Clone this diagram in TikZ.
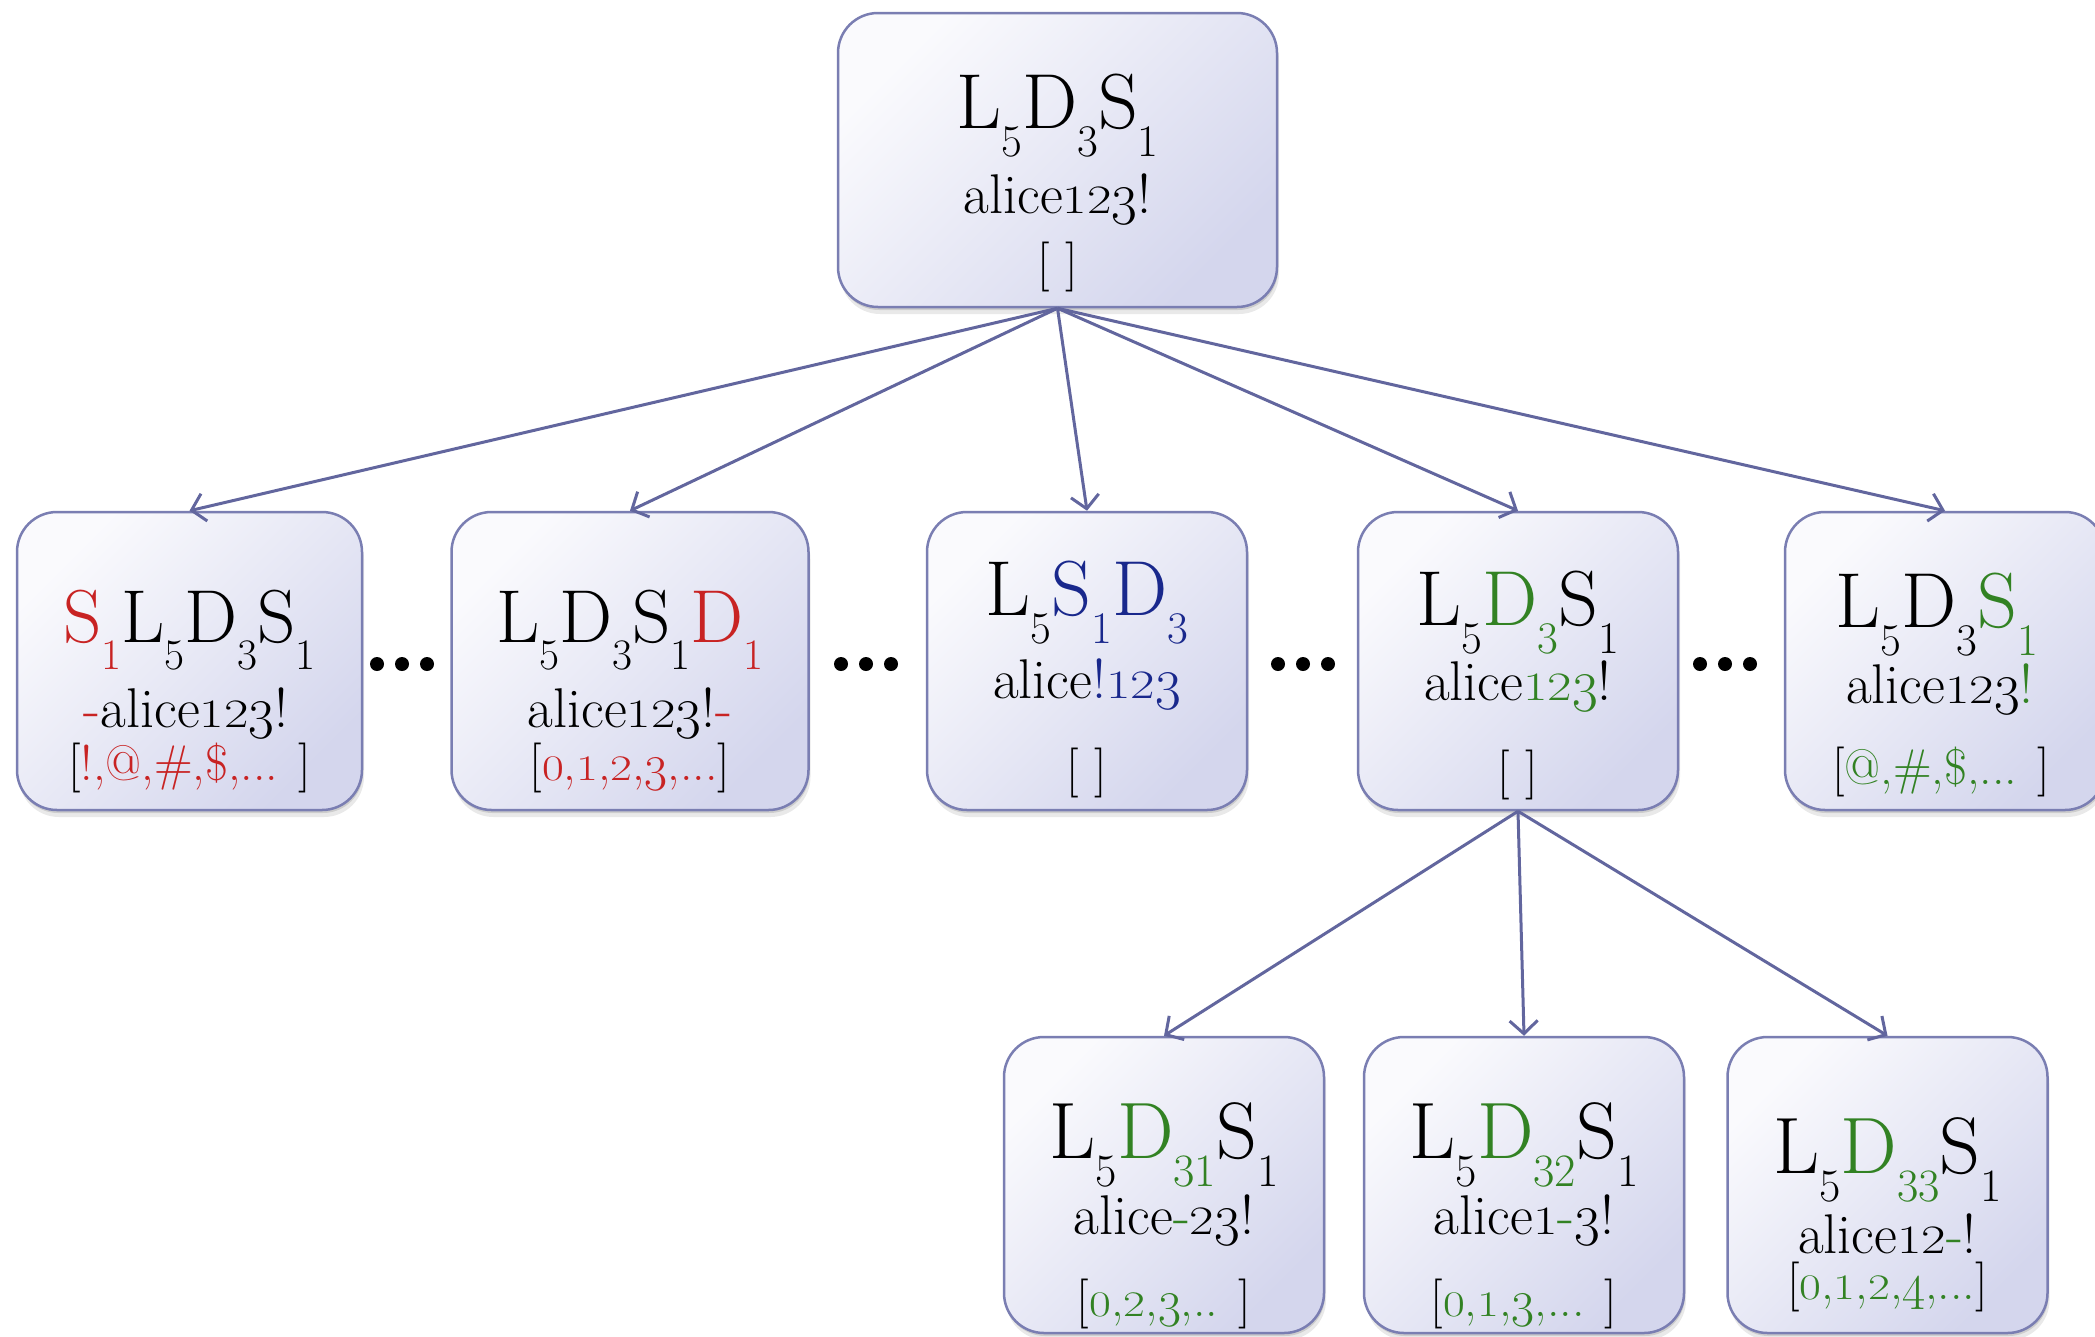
\documentclass[tikz,border=0pt]{standalone}
\usepackage{graphicx}
\usetikzlibrary{arrows.meta,shadows}
\definecolor{cred}{RGB}{200,35,35}
\definecolor{cblue}{RGB}{25,40,140}
\definecolor{cgreen}{RGB}{50,130,35}
\definecolor{edgec}{RGB}{98,102,158}
\definecolor{boxborder}{RGB}{122,126,178}
\definecolor{boxtop}{RGB}{250,250,253}
\definecolor{boxbot}{RGB}{212,214,237}
% old-style look: small figures (0,1,2) and descending figures (3,4)
\newcommand\oS[1]{\scalebox{0.95}[0.72]{#1}}
\newcommand\oD[1]{\raisebox{-0.2em}{#1}}
\newcommand\sub[1]{\raisebox{-0.36em}{\scalebox{0.58}{#1}}}
\newcommand\cR[1]{\textcolor{cred}{#1}}
\newcommand\cB[1]{\textcolor{cblue}{#1}}
\newcommand\cG[1]{\textcolor{cgreen}{#1}}
\begin{document}
\begin{tikzpicture}[x=1pt,y=-1pt,
  box/.style={rectangle, rounded corners=40pt, draw=boxborder, line width=2.5pt,
    top color=boxtop, bottom color=boxbot, shading angle=45,
    inner sep=0pt,
    drop shadow={shadow xshift=1pt,shadow yshift=-3pt,opacity=0.18,fill=black!70},
    drop shadow={shadow xshift=2pt,shadow yshift=-7pt,opacity=0.12,fill=black!70}},
  rowbox/.style={box, minimum width=320pt, minimum height=298pt},
  tA/.style={anchor=base, inner sep=0pt, font=\fontsize{78}{84}\selectfont},
  tAs/.style={anchor=base, inner sep=0pt, font=\fontsize{75}{80}\selectfont},
  tAb/.style={anchor=base, inner sep=0pt, font=\fontsize{80}{86}\selectfont},
  tB/.style={anchor=base, inner sep=0pt, font=\fontsize{56}{60}\selectfont},
  tC/.style={anchor=base, inner sep=0pt, font=\fontsize{50}{54}\selectfont},
  arr/.style={draw=edgec, line width=3pt, -{Straight Barb[length=13pt,width=28pt]}},
  dot/.style={fill=black}
]
\useasboundingbox (0,0) rectangle (2095,1336);

% boxes
\node[box, minimum width=439pt, minimum height=294pt] (root) at (1057.5,160) {};
\node[box, minimum width=345pt, minimum height=298pt] (b1) at (189.5,661) {};
\node[box, minimum width=357pt, minimum height=298pt] (b2) at (630,661) {};
\node[rowbox] (b3) at (1087,661) {};
\node[rowbox] (b4) at (1518,661) {};
\node[rowbox] (b5) at (1945,661) {};
\node[rowbox, minimum height=296pt] (b6) at (1164,1185) {};
\node[rowbox, minimum height=296pt] (b7) at (1524,1185) {};
\node[rowbox, minimum height=296pt] (b8) at (1887.5,1185) {};

% root text
\node[tA] (r1) at (1057.5,128) {L\sub{5}D\sub{3}S\sub{1}};
\node[tB] (r2) at (1057.5,213) {alice\oS{12}\oD{3}!};
\node[tC] (r3) at (1057.5,279) {[ ]};

% b1
\node[tAs] (b1a) at (189.5,642) {\cR{S\sub{1}}L\sub{5}D\sub{3}S\sub{1}};
\node[tB] (b1b) at (186,727) {\cR{-}alice\oS{12}\oD{3}!};
\node[tC] (b1c) at (189.5,780) {[\cR{!,@,\#,\$,...} ]};

% b2
\node[tAs] (b2a) at (630,642) {L\sub{5}D\sub{3}S\sub{1}\cR{D\sub{1}}};
\node[tB] (b2b) at (630,727) {alice\oS{12}\oD{3}!\cR{-}};
\node[tC] (b2c) at (630,780) {[\cR{\oS{0},\oS{1},\oS{2},\oD{3},...}]};

% b3
\node[tA] (b3a) at (1087,615) {L\sub{5}\cB{S\sub{1}D\sub{3}}};
\node[tB] (b3b) at (1087,698) {alice\cB{!\oS{12}\oD{3}}};
\node[tC] (b3c) at (1087,785) {[ ]};

% b4
\node[tA] (b4a) at (1518,625) {L\sub{5}\cG{D\sub{3}}S\sub{1}};
\node[tB] (b4b) at (1518,700) {alice\cG{\oS{12}\oD{3}}!};
\node[tC] (b4c) at (1518,787) {[ ]};

% b5
\node[tA] (b5a) at (1937,627) {L\sub{5}D\sub{3}\cG{S\sub{1}}};
\node[tB] (b5b) at (1940,703) {alice\oS{12}\oD{3}\cG{!}};
\node[tC] (b5c) at (1941,784) {[\cG{@,\#,\$,...} ]};

% b6
\node[tAb] (b6a) at (1164,1158) {L\sub{5}\cG{D\sub{31}}S\sub{1}};
\node[tB] (b6b) at (1164,1234) {alice\cG{-}\oS{2}\oD{3}!};
\node[tC] (b6c) at (1164,1316) {[\cG{\oS{0},\oS{2},\oD{3},..} ]};

% b7
\node[tAb] (b7a) at (1524,1158) {L\sub{5}\cG{D\sub{32}}S\sub{1}};
\node[tB] (b7b) at (1524,1234) {alice\oS{1}\cG{-}\oD{3}!};
\node[tC] (b7c) at (1524,1316) {[\cG{\oS{0},\oS{1},\oD{3},...} ]};

% b8
\node[tAb] (b8a) at (1887.5,1173) {L\sub{5}\cG{D\sub{33}}S\sub{1}};
\node[tB] (b8b) at (1887.5,1253) {alice\oS{12}\cG{-}!};
\node[tC] (b8c) at (1887.5,1299) {[\cG{\oS{0},\oS{1},\oS{2},\oD{4},...}]};

% dots between boxes
\foreach \cx in {402,866,1303,1725}{
  \foreach \dx in {-25,0,25}{
    \fill[dot] (\cx+\dx,664) circle (7pt);
  }
}

% connectors
\draw[arr] (root.south) -- (b1.north);
\draw[arr] (root.south) -- (b2.north);
\draw[arr] (root.south) -- (b3.north);
\draw[arr] (root.south) -- (b4.north);
\draw[arr] (root.south) -- (b5.north);
\draw[arr] (b4.south) -- (b6.north);
\draw[arr] (b4.south) -- (b7.north);
\draw[arr] (b4.south) -- (b8.north);
\end{tikzpicture}
\end{document}
